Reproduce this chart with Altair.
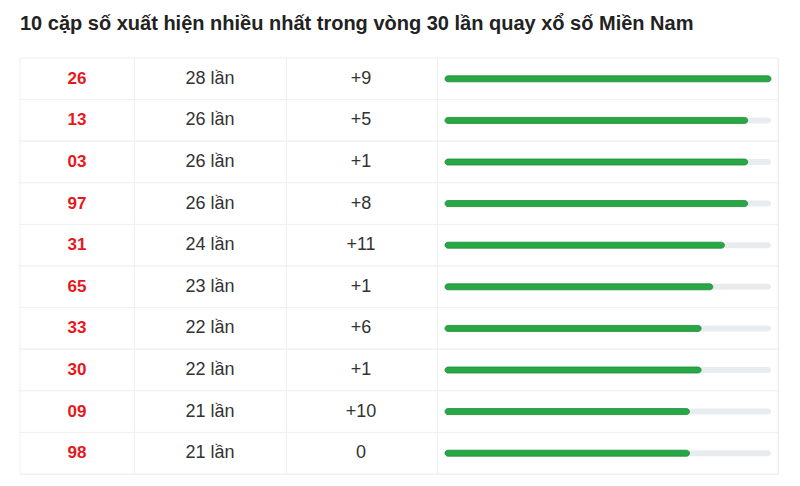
import altair as alt
import pandas as pd

numbers = ["26", "13", "03", "97", "31", "65", "33", "30", "09", "98"]
counts = [28, 26, 26, 26, 24, 23, 22, 22, 21, 21]
deltas = ["+9", "+5", "+1", "+8", "+11", "+1", "+6", "+1", "+10", "0"]
title_text = "10 cặp số xuất hiện nhiều nhất trong vòng 30 lần quay xổ số Miền Nam"

df = pd.DataFrame({
    "num": numbers,
    "count": counts,
    "label": [f"{c} lần" for c in counts],
    "delta": deltas,
})
df["zero"] = 0
df["maxc"] = max(counts)

W, H = 758, 416
col_edges = [114.5, 266.5, 417.5]
col_centers = [57, 190, 341]
FONT = "Liberation Sans"
GRID = "#efefef"

y = alt.Y("num:N", sort=numbers, axis=None,
          scale=alt.Scale(paddingInner=0, paddingOuter=0))
base = alt.Chart(df)

rows = base.mark_rect(fill="white", stroke=GRID, strokeWidth=1).encode(
    y=y, x=alt.value(0), x2=alt.value(W))

vlines = alt.layer(*[
    base.mark_rule(color=GRID, strokeWidth=1).encode(
        x=alt.value(e), y=alt.value(0), y2=alt.value(H))
    for e in col_edges
])

t_num = base.mark_text(font=FONT, fontSize=17, fontWeight="bold", color="#e8171c").encode(
    y=y, x=alt.value(col_centers[0]), text="num:N")
t_cnt = base.mark_text(font=FONT, fontSize=18, color="#333333").encode(
    y=y, x=alt.value(col_centers[1]), text="label:N")
t_del = base.mark_text(font=FONT, fontSize=18, color="#333333").encode(
    y=y, x=alt.value(col_centers[2]), text="delta:N")

xs = alt.Scale(domain=[0, max(counts)], range=[425, 751])
track = base.mark_bar(size=6, cornerRadius=3, color="#e9ecef").encode(
    y=y, x=alt.X("zero:Q", scale=xs, axis=None), x2="maxc:Q")
bar = base.mark_bar(size=6, cornerRadius=3, color="#28a745", stroke="#1f8a38", strokeWidth=0.8).encode(
    y=y, x=alt.X("zero:Q", scale=xs, axis=None), x2="count:Q")

chart = alt.layer(rows, vlines, t_num, t_cnt, t_del, track, bar).properties(
    width=W, height=H,
    autosize=alt.AutoSizeParams(type="none"),
    padding={"left": 12, "top": 50, "right": 14, "bottom": 4},
    title=alt.TitleParams(title_text, anchor="start", frame="group", font=FONT,
                          fontSize=20, fontWeight="bold", color="#222222", offset=24),
).configure_view(stroke=GRID, strokeWidth=1)

chart.save("out.html", embed_options={"renderer": "svg", "actions": False})
